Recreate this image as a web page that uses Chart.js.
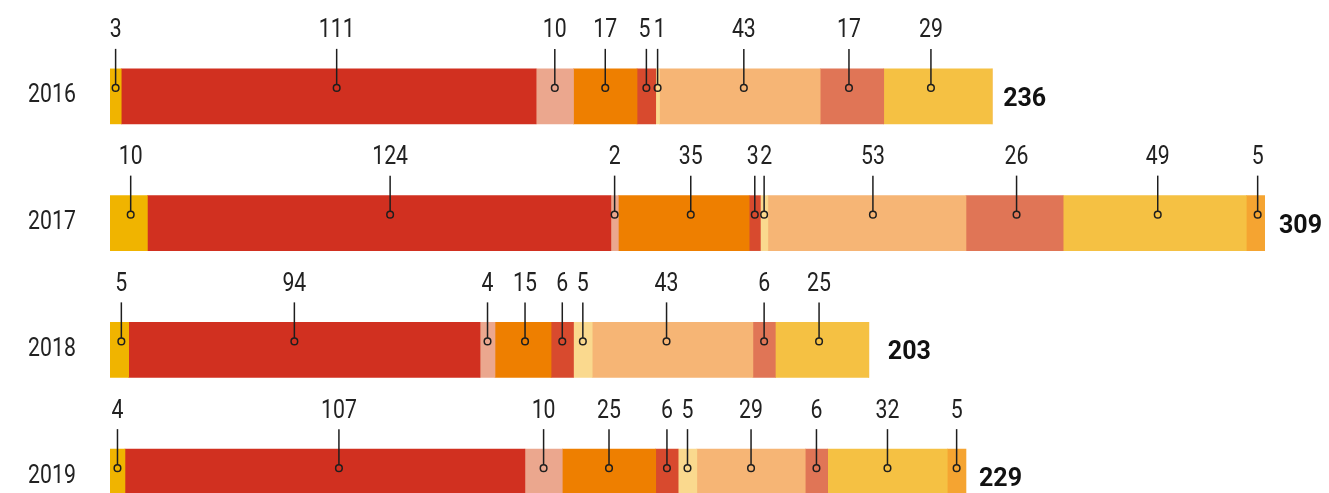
<!DOCTYPE html>
<html>
<head>
<meta charset="utf-8">
<script src="https://cdn.jsdelivr.net/npm/chart.js@4"></script>
<style>
  html, body { margin: 0; padding: 0; background: #fff; overflow: hidden; }
  #wrap { width: 1329px; height: 545px; }
</style>
</head>
<body>
<div id="wrap"><canvas id="c" width="1329" height="545"></canvas></div>
<script>
const years = ['2016', '2017', '2018', '2019'];
const seg1  = [3, 10, 5, 4];
const seg2  = [111, 124, 94, 107];
const seg3  = [10, 2, 4, 10];
const seg4  = [17, 35, 15, 25];
const seg5  = [5, 3, 6, 6];
const seg6  = [1, 2, 5, 5];
const seg7  = [43, 53, 43, 29];
const seg8  = [17, 26, 6, 6];
const seg9  = [29, 49, 25, 32];
const seg10 = [0, 5, 0, 5];
const series = [seg1, seg2, seg3, seg4, seg5, seg6, seg7, seg8, seg9, seg10];
const colors = ['#F0B400', '#D13020', '#EBA78E', '#EE7F00', '#D84A2E',
                '#FAD98E', '#F6B575', '#E07556', '#F5C143', '#F5A431'];
const totals = years.map((_, j) => series.reduce((s, arr) => s + arr[j], 0));

// small hand-placement nudges of annotation labels (pixels), as in the original artwork
const labelNudge = {
  '0-1': 8, '0-6': 4, '0-7': -3, '0-8': -7,
  '1-0': 2, '1-1': 11, '1-3': 7, '1-6': 6, '1-7': 2, '1-8': 3, '1-9': 2,
  '2-0': 2, '2-1': -10, '2-3': 2, '2-6': -6, '2-8': -3,
  '3-1': 14
};
// extra nudge of the number text only, to separate crowded pairs
const textNudge = { '0-4': -2, '0-5': 2, '1-4': -2, '1-5': 2 };
const totalGap = [11, 14, 19, 13];

const FONT = "Roboto, 'DejaVu Sans', sans-serif";
const SX = 0.85;

function condensedText(ctx, text, x, y, align) {
  ctx.save();
  ctx.translate(x, y);
  ctx.scale(SX, 1);
  ctx.textAlign = align;
  ctx.fillText(text, 0, 0);
  ctx.restore();
}

const labelPlugin = {
  id: 'labels',
  afterDatasetsDraw(chart) {
    const ctx = chart.ctx;
    const xs = chart.scales.x;
    ctx.save();
    chart.data.datasets.forEach((ds, i) => {
      const meta = chart.getDatasetMeta(i);
      meta.data.forEach((el, j) => {
        const v = ds.data[j];
        if (!v) return;
        const key = j + '-' + i;
        const xc = (el.base + el.x) / 2 + (labelNudge[key] || 0);
        const top = el.y - el.height / 2;
        const cy = top + 19;
        ctx.strokeStyle = '#1e1e1e';
        ctx.lineWidth = 1.5;
        ctx.beginPath();
        ctx.moveTo(xc, top - 20);
        ctx.lineTo(xc, cy - 3.3);
        ctx.stroke();
        ctx.beginPath();
        ctx.arc(xc, cy, 3.3, 0, Math.PI * 2);
        ctx.stroke();
        ctx.fillStyle = '#222';
        ctx.font = '25px ' + FONT;
        ctx.textBaseline = 'alphabetic';
        condensedText(ctx, String(v), xc + (textNudge[key] || 0), top - 31.5, 'center');
      });
    });
    const meta0 = chart.getDatasetMeta(0);
    meta0.data.forEach((el, j) => {
      const top = el.y - el.height / 2;
      ctx.textBaseline = 'alphabetic';
      ctx.fillStyle = '#111';
      ctx.font = 'bold 25px ' + FONT;
      ctx.textAlign = 'left';
      ctx.fillText(String(totals[j]), xs.getPixelForValue(totals[j]) + totalGap[j], top + 37);
      ctx.fillStyle = '#222';
      ctx.font = '25px ' + FONT;
      condensedText(ctx, years[j], 52, top + 33.5, 'center');
    });
    ctx.restore();
  }
};

new Chart(document.getElementById('c'), {
  type: 'bar',
  data: {
    labels: years,
    datasets: series.map((arr, i) => ({
      label: 'S' + (i + 1),
      data: arr,
      backgroundColor: colors[i],
      borderWidth: 0,
      barThickness: 55
    }))
  },
  options: {
    indexAxis: 'y',
    responsive: false,
    animation: false,
    layout: { padding: { left: 110, right: 64, top: 33, bottom: 5 } },
    plugins: { legend: { display: false }, tooltip: { enabled: false } },
    scales: {
      x: { stacked: true, min: 0, max: 309, display: false },
      y: { stacked: true, display: false }
    }
  },
  plugins: [labelPlugin]
});
</script>
</body>
</html>
